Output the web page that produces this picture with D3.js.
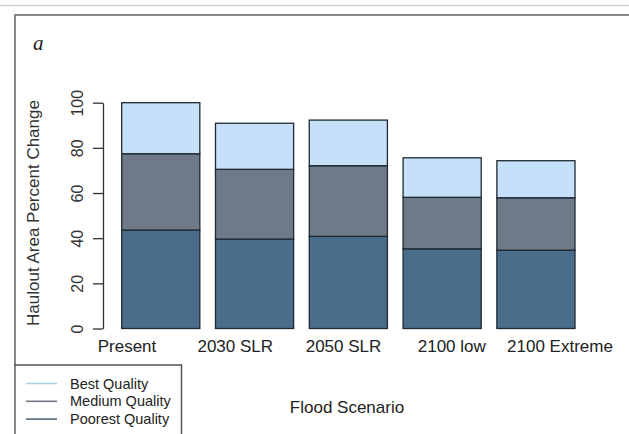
<!DOCTYPE html>
<html><head><meta charset="utf-8">
<script src="https://cdn.jsdelivr.net/npm/d3@7"></script>
<style>body{margin:0;background:#fff}svg{display:block}</style>
</head><body>
<svg id="c" width="629" height="434"></svg>
<script>
const categories = ["Present", "2030 SLR", "2050 SLR", "2100 low", "2100 Extreme"];
const poorest = [43.6, 39.6, 40.8, 35.3, 34.7];
const medium = [33.8, 30.9, 31.3, 22.8, 23.2];
const best = [22.6, 20.4, 20.2, 17.5, 16.4];
const seriesNames = ["Best Quality", "Medium Quality", "Poorest Quality"];
const seriesColors = ["#c6e0fa", "#6e7a88", "#4a6d8b"];
const legendColors = ["#a9d6e6", "#727a84", "#4d6a7c"];
const yTicks = [0, 20, 40, 60, 80, 100];

const svg = d3.select("#c");
const txt = "#222";
const font = "Liberation Sans, Arial, sans-serif";

// outer frame lines
svg.append("line").attr("x1",0).attr("x2",629).attr("y1",5.5).attr("y2",5.5).attr("stroke","#d0d0d0").attr("stroke-width",1.5);
svg.append("line").attr("x1",14).attr("x2",629).attr("y1",15).attr("y2",15).attr("stroke","#8a8a8a").attr("stroke-width",2);
svg.append("line").attr("x1",15).attr("x2",15).attr("y1",14).attr("y2",434).attr("stroke","#8a8a8a").attr("stroke-width",2);

const x = d3.scaleBand().domain(categories).range([121.7, 575]).paddingInner(0.167).paddingOuter(0);
const xl = d3.scalePoint().domain(categories).range([127, 560]);
const y = d3.scaleLinear().domain([0, 100]).range([328.5, 102.7]);

const rows = categories.map((c,i)=>({cat:c, poorest:poorest[i], medium:medium[i], best:best[i]}));
const stack = d3.stack().keys(["poorest","medium","best"])(rows);
const colorByKey = {poorest: seriesColors[2], medium: seriesColors[1], best: seriesColors[0]};

svg.append("g").selectAll("g").data(stack).join("g")
  .attr("fill", d => colorByKey[d.key])
  .selectAll("rect").data(d => d).join("rect")
  .attr("x", d => x(d.data.cat))
  .attr("width", x.bandwidth())
  .attr("y", d => y(d[1]))
  .attr("height", d => y(d[0]) - y(d[1]))
  .attr("stroke", "#1e2a33").attr("stroke-width", 1.3);

// y axis
const yAxis = svg.append("g").attr("transform","translate(103,0)")
  .call(d3.axisLeft(y).tickValues(yTicks).tickSize(10).tickSizeOuter(0));
yAxis.select(".domain").attr("stroke","#333").attr("stroke-width",1.3);
yAxis.selectAll(".tick line").attr("stroke","#333").attr("stroke-width",1.3);
yAxis.selectAll(".tick text")
  .attr("font-family", font).attr("font-size", 16).attr("fill", "#333")
  .attr("text-anchor","middle").attr("dy", null).attr("x", 0)
  .attr("transform", "translate(-25.5,0) rotate(-90)")
  .attr("dominant-baseline","central");

// x labels
svg.append("g").selectAll("text").data(categories).join("text")
  .attr("x", d => xl(d)).attr("y", 352)
  .attr("text-anchor","middle").attr("font-family",font).attr("font-size",17).attr("fill",txt)
  .text(d => d);

// axis titles
svg.append("text").attr("transform","translate(39,213) rotate(-90)")
  .attr("text-anchor","middle").attr("font-family",font).attr("font-size",17).attr("fill","#333")
  .text("Haulout Area Percent Change");
svg.append("text").attr("x",347).attr("y",413)
  .attr("text-anchor","middle").attr("font-family",font).attr("font-size",17).attr("fill",txt)
  .text("Flood Scenario");

// panel letter
svg.append("text").attr("x",33).attr("y",50).attr("font-family","Liberation Serif, Times New Roman, serif")
  .attr("font-style","italic").attr("font-size",21).attr("fill","#222").text("a");

// legend box
svg.append("line").attr("x1",14).attr("x2",182).attr("y1",365).attr("y2",365).attr("stroke","#555").attr("stroke-width",1.5);
svg.append("line").attr("x1",181.5).attr("x2",181.5).attr("y1",364.5).attr("y2",434).attr("stroke","#555").attr("stroke-width",1.5);
const lg = svg.append("g").selectAll("g").data(seriesNames).join("g")
  .attr("transform",(d,i)=>`translate(0,${383.5 + i*17.8})`);
lg.append("line").attr("x1",26).attr("x2",57).attr("stroke",(d,i)=>legendColors[i]).attr("stroke-width",1.6);
lg.append("text").attr("x",70).attr("y",0).attr("dominant-baseline","central")
  .attr("font-family",font).attr("font-size",14.5).attr("fill",txt).text(d=>d);
</script>
</body></html>
